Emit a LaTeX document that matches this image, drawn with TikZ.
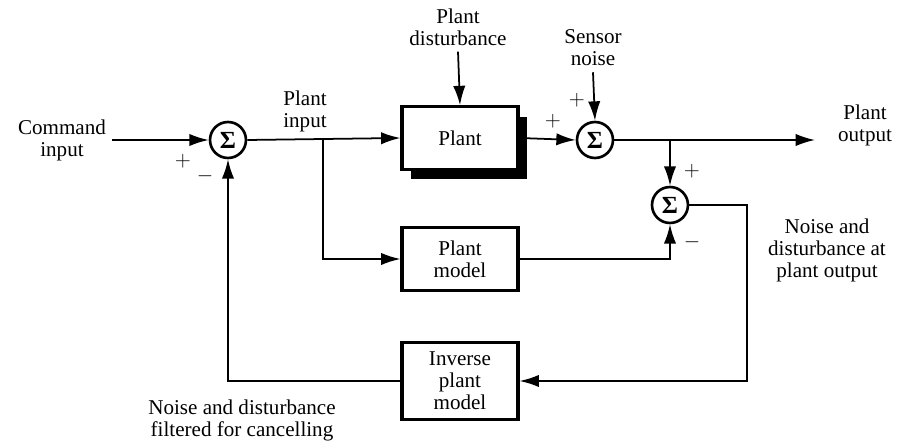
\documentclass[tikz,border=0pt]{standalone}
\usepackage{fontspec}
\setmainfont{Liberation Serif}
\usetikzlibrary{arrows.meta,shadows}

\begin{document}
\begin{tikzpicture}[x=0.02cm, y=-0.02cm,
    sumnode/.style={draw, circle, line width=1.5pt, minimum size=0.72cm, inner sep=0pt, font=\fontsize{14}{14}\bfseries},
    blockbox/.style={draw, line width=1.8pt, minimum width=2.32cm, minimum height=1.25cm, align=center, fill=white, font=\fontsize{12}{12.5}\selectfont},
    lbl/.style={align=center, font=\fontsize{12}{12.5}\selectfont},
    sgn/.style={font=\fontsize{12}{12.5}\selectfont},
    flow/.style={-{Latex[length=11pt,width=7pt]}, line width=1pt}]
    \useasboundingbox (0,0) rectangle (897,442);

    % Summing junctions
    \node[sumnode] (sum1) at (228,140) {Σ};
    \node[sumnode] (sum2) at (595,140) {Σ};
    \node[sumnode] (sum3) at (670,205) {Σ};

    % Blocks
    \node[blockbox, drop shadow={shadow xshift=0.18cm, shadow yshift=-0.2cm, fill=black, opacity=1}] (plant) at (460,138) {Plant};
    \node[blockbox] (pmodel) at (460,259) {Plant\\model};
    \node[blockbox, minimum height=1.54cm] (inv) at (460,381) {Inverse\\plant\\model};

    % Labels
    \node[lbl] (cmd) at (62,140) {Command\\input};
    \node[lbl] (pin) at (305,111) {Plant\\input};
    \node[lbl] (dist) at (458,27) {Plant\\disturbance};
    \node[lbl] (snoise) at (593,48) {Sensor\\noise};
    \node[lbl] (pout) at (865,125) {Plant\\output};
    \node[lbl] (nout) at (827,250) {Noise and\\disturbance at\\plant output};
    \node[lbl] (nfilt) at (242,420) {Noise and disturbance\\filtered for cancelling};

    % Signs
    \node[sgn] (p1) at (183,161) {$+$};
    \node[sgn] (m1) at (205,176) {$-$};
    \node[sgn] (p2) at (553,121) {$+$};
    \node[sgn] (p3) at (577,100) {$+$};
    \node[sgn] (p4) at (692,171) {$+$};
    \node[sgn] (m3) at (692,242) {$-$};

    % Branch points
    \coordinate (tap1) at (323,140);
    \coordinate (tap2) at (670,140);
    \coordinate (outend) at (815,140);
    \coordinate (rc) at (747,381);

    % Signal paths
    \draw[flow] (cmd.east) -- (sum1.west);
    \draw[flow] (sum1.east) -- (plant.west);
    \draw[flow] (tap1) |- (pmodel.west);
    \draw[flow] (dist.south) -- (plant.north);
    \draw[flow] (plant.east) -- (sum2.west);
    \draw[flow] (snoise.south) -- (sum2.north);
    \draw[flow] (sum2.east) -- (outend);
    \draw[flow] (tap2) -- (sum3.north);
    \draw[flow] (pmodel.east) -| (sum3.south);
    \draw[flow] (sum3.east) -| (rc) -- (inv.east);
    \draw[flow] (inv.west) -| (sum1.south);
\end{tikzpicture}
\end{document}
